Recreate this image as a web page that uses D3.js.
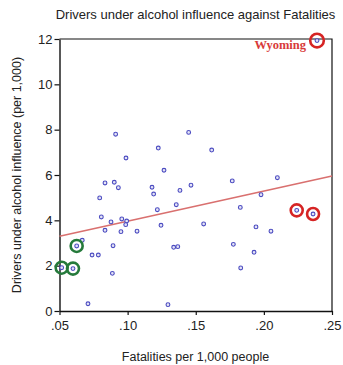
<!DOCTYPE html>
<html>
<head>
<meta charset="utf-8">
<script src="https://cdn.jsdelivr.net/npm/d3@7"></script>
<style>
  html, body { margin: 0; padding: 0; background: #fff; }
  svg { display: block; }
</style>
</head>
<body>
<svg id="chart" width="343" height="365"></svg>
<script>
// Fatalities per 1,000 people, one value per state
const fatalities = [
  0.0912, 0.1448, 0.1225, 0.0988, 0.2390, 0.1617, 0.1267, 0.0834, 0.0902, 0.0932,
  0.1179, 0.1191, 0.1384, 0.1465, 0.0795, 0.1357, 0.1218, 0.0807, 0.0878, 0.0957,
  0.0993, 0.0986, 0.0834, 0.0951, 0.1069, 0.1245, 0.0667, 0.0626, 0.0893, 0.1338,
  0.1368, 0.0739, 0.0785, 0.0516, 0.0599, 0.0888, 0.0709, 0.1296, 0.1768, 0.2099,
  0.1979, 0.1827, 0.2241, 0.2361, 0.1558, 0.1942, 0.2052, 0.1776, 0.1928, 0.1830
];
// Drivers under alcohol influence (per 1,000), same order
const drunkDrivers = [
  7.80, 7.88, 7.19, 6.75, 11.93, 7.10, 6.21, 5.65, 5.68, 5.44,
  5.46, 5.16, 5.32, 5.55, 4.99, 4.69, 4.47, 4.15, 3.93, 4.06,
  3.97, 3.81, 3.56, 3.50, 3.52, 3.78, 3.12, 2.87, 2.88, 2.81,
  2.84, 2.47, 2.47, 1.91, 1.87, 1.66, 0.32, 0.28, 5.74, 5.88,
  5.13, 4.57, 4.44, 4.28, 3.84, 3.71, 3.52, 2.94, 2.59, 1.90
];
// Highlighted observations (indices into the arrays above)
const lowHighlights = [27, 33, 34];
const highHighlights = [42, 43];
const labelled = { index: 4, name: "Wyoming" };

// Fitted regression line, endpoints at the x-axis limits
const fitX = [0.05, 0.25];
const fitY = [3.30, 5.96];

const xTicks = [0.05, 0.10, 0.15, 0.20, 0.25];
const yTicks = [0, 2, 4, 6, 8, 10, 12];

const points = fatalities.map((f, i) => ({ x: f, y: drunkDrivers[i] }));

const svg = d3.select("#chart");
const font = "'Liberation Sans', Arial, sans-serif";
const plot = { left: 59.5, right: 332, top: 39, bottom: 311 };

const x = d3.scaleLinear().domain([0.05, 0.25]).range([plot.left, plot.right]);
const y = d3.scaleLinear().domain([0, 12]).range([plot.bottom, plot.top]);

// Frame: thin top and right edges
svg.append("path")
  .attr("d", `M${plot.left},${plot.top}H${plot.right}V${plot.bottom}`)
  .attr("fill", "none").attr("stroke", "#111").attr("stroke-width", 1.2);

const fmtX = d => d3.format(".2f")(d).replace(/^0/, "");

const xAxis = svg.append("g")
  .attr("transform", `translate(0,${plot.bottom})`)
  .call(d3.axisBottom(x).tickValues(xTicks).tickFormat(fmtX).tickSize(4).tickSizeOuter(0));
const yAxis = svg.append("g")
  .attr("transform", `translate(${plot.left},0)`)
  .call(d3.axisLeft(y).tickValues(yTicks).tickSize(5).tickSizeOuter(0));

[xAxis, yAxis].forEach(g => {
  g.select(".domain").attr("stroke", "#111").attr("stroke-width", 1.4);
  g.selectAll(".tick line").attr("stroke", "#111").attr("stroke-width", 1.2);
  g.selectAll(".tick text")
    .attr("font-family", font).attr("font-size", 13).attr("fill", "#222");
});
xAxis.selectAll(".tick text").attr("dy", "0.95em");
yAxis.selectAll(".tick text").attr("x", -7);

// Regression line
svg.append("line")
  .attr("x1", x(fitX[0])).attr("y1", y(fitY[0]))
  .attr("x2", x(fitX[1])).attr("y2", y(fitY[1]))
  .attr("stroke", "#d9706f").attr("stroke-width", 1.6);

// Observations
svg.append("g").selectAll("circle")
  .data(points).join("circle")
  .attr("cx", d => x(d.x)).attr("cy", d => y(d.y))
  .attr("r", 1.9)
  .attr("fill", "#e4e4f6")
  .attr("stroke", "#4a4ac0").attr("stroke-width", 1.1);

// Highlight rings
svg.append("g").selectAll("circle")
  .data(lowHighlights.map(i => points[i])).join("circle")
  .attr("cx", d => x(d.x)).attr("cy", d => y(d.y))
  .attr("r", 6).attr("fill", "none")
  .attr("stroke", "#257a3b").attr("stroke-width", 2.6);

svg.append("g").selectAll("circle")
  .data(highHighlights.map(i => points[i]).concat([points[labelled.index]])).join("circle")
  .attr("cx", d => x(d.x)).attr("cy", d => y(d.y))
  .attr("r", (d, i) => i === 2 ? 6.8 : 6).attr("fill", "none")
  .attr("stroke", "#d62424").attr("stroke-width", 2.6);

// State label
const wy = points[labelled.index];
svg.append("text")
  .attr("x", x(wy.x) - 11).attr("y", y(wy.y) + 8)
  .attr("text-anchor", "end")
  .attr("font-family", "'Liberation Serif', 'Times New Roman', serif")
  .attr("font-weight", "bold").attr("font-size", 12.5)
  .attr("fill", "#d83a3a")
  .text(labelled.name);

// Title and axis titles
svg.append("text")
  .attr("x", 195.5).attr("y", 19)
  .attr("text-anchor", "middle")
  .attr("font-family", font).attr("font-size", 13).attr("fill", "#222")
  .text("Drivers under alcohol influence against Fatalities");

svg.append("text")
  .attr("x", 195.5).attr("y", 361)
  .attr("text-anchor", "middle")
  .attr("font-family", font).attr("font-size", 12.5).attr("fill", "#222")
  .text("Fatalities per 1,000 people");

svg.append("text")
  .attr("transform", `translate(21,${(plot.top + plot.bottom) / 2}) rotate(-90)`)
  .attr("text-anchor", "middle")
  .attr("font-family", font).attr("font-size", 12.5).attr("fill", "#222")
  .text("Drivers under alcohol influence (per 1,000)");
</script>
</body>
</html>
